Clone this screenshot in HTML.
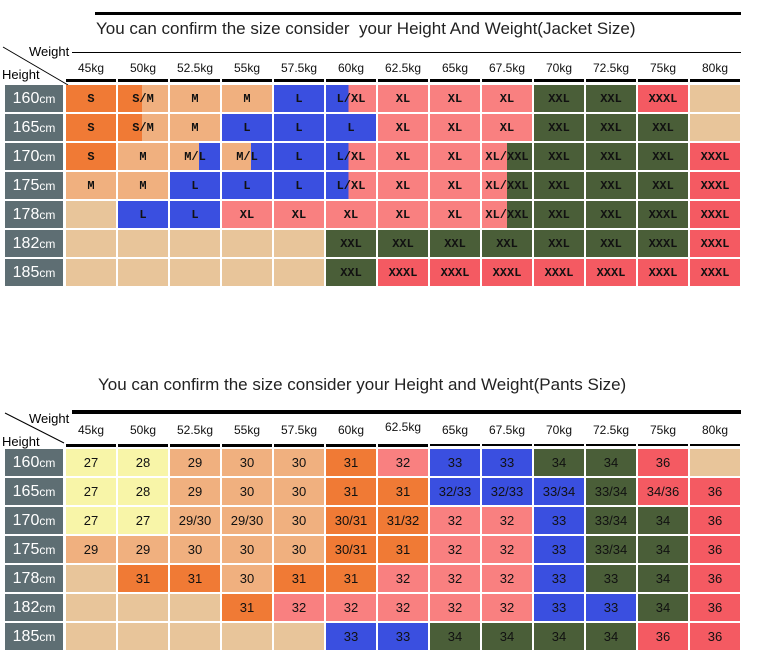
<!DOCTYPE html><html><head><style>
body{margin:0;width:757px;height:662px;background:#fff;position:relative;overflow:hidden;font-family:"Liberation Sans",sans-serif}
.a{position:absolute}
.t{position:absolute;font-size:17px;color:#222;white-space:nowrap}
.hd{position:absolute;left:66px;display:grid;grid-template-columns:repeat(13,50px);column-gap:2px;font-size:12px;color:#111;text-align:center}
.g{position:absolute;left:66px;display:grid;grid-template-columns:repeat(13,50px);grid-auto-rows:27px;gap:2px}
.g div{display:flex;align-items:center;justify-content:center;color:#111}
.j div{font-family:"Liberation Mono",monospace;font-weight:bold;font-size:12px}
.p div{font-size:13px}
.lb{position:absolute;left:5px;width:58px;display:grid;grid-auto-rows:27px;gap:2px}
.lb div{background:#5E6E73;color:#fff;font-size:16px;display:flex;align-items:center;justify-content:center}
.lb small{font-size:12px}
.o{background:#F07A35}.pe{background:#F0B07F}.tn{background:#E8C59A}.b{background:#3A4FE0}.pk{background:#F98080}.gr{background:#4A5E38}.r{background:#F45A62}.y{background:#F8F5A8}
.om{background:linear-gradient(90deg,#F07A35 48%,#F0B07F 48%)}
.ml{background:linear-gradient(90deg,#F0B07F 58%,#3A4FE0 58%)}
.lx{background:linear-gradient(90deg,#3A4FE0 45%,#F98080 45%)}
.xx{background:linear-gradient(90deg,#F98080 50%,#4A5E38 50%)}
.bar{position:absolute;height:3px;background:#000;width:50px}
</style></head><body>
<div class="a" style="left:95px;top:12px;width:646px;height:3px;background:#000"></div>
<div class="t" style="left:96px;top:19px">You can confirm the size consider&nbsp; your Height And Weight(Jacket Size)</div>
<div class="a" style="left:72px;top:52px;width:669px;height:1px;background:#000"></div>
<div class="a" style="left:29px;top:44px;font-size:13px;background:#fff">Weight</div>
<div class="a" style="left:2px;top:67px;font-size:13px">Height</div>
<svg class="a" style="left:0;top:0" width="80" height="100"><line x1="3" y1="47" x2="68" y2="85" stroke="#000" stroke-width="1"/></svg>
<div class="hd" style="top:61px"><span>45kg</span><span>50kg</span><span>52.5kg</span><span>55kg</span><span>57.5kg</span><span>60kg</span><span>62.5kg</span><span>65kg</span><span>67.5kg</span><span>70kg</span><span>72.5kg</span><span>75kg</span><span>80kg</span></div>
<div class="hd" style="top:79px;grid-auto-rows:3px"><span style="background:#000"></span><span style="background:#000"></span><span style="background:#000"></span><span style="background:#000"></span><span style="background:#000"></span><span style="background:#000"></span><span style="background:#000"></span><span style="background:#000"></span><span style="background:#000"></span><span style="background:#000"></span><span style="background:#000"></span><span style="background:#000"></span><span style="background:#000"></span></div>
<div class="lb" style="top:85px"><div>160<small>cm</small></div><div>165<small>cm</small></div><div>170<small>cm</small></div><div>175<small>cm</small></div><div>178<small>cm</small></div><div>182<small>cm</small></div><div>185<small>cm</small></div></div>
<div class="g j" style="top:85px">
<div class="o">S</div><div class="om">S/M</div><div class="pe">M</div><div class="pe">M</div><div class="b">L</div><div class="lx">L/XL</div><div class="pk">XL</div><div class="pk">XL</div><div class="pk">XL</div><div class="gr">XXL</div><div class="gr">XXL</div><div class="r">XXXL</div><div class="tn"></div>
<div class="o">S</div><div class="om">S/M</div><div class="pe">M</div><div class="b">L</div><div class="b">L</div><div class="b">L</div><div class="pk">XL</div><div class="pk">XL</div><div class="pk">XL</div><div class="gr">XXL</div><div class="gr">XXL</div><div class="gr">XXL</div><div class="tn"></div>
<div class="o">S</div><div class="pe">M</div><div class="ml">M/L</div><div class="ml">M/L</div><div class="b">L</div><div class="lx">L/XL</div><div class="pk">XL</div><div class="pk">XL</div><div class="xx">XL/XXL</div><div class="gr">XXL</div><div class="gr">XXL</div><div class="gr">XXL</div><div class="r">XXXL</div>
<div class="pe">M</div><div class="pe">M</div><div class="b">L</div><div class="b">L</div><div class="b">L</div><div class="lx">L/XL</div><div class="pk">XL</div><div class="pk">XL</div><div class="xx">XL/XXL</div><div class="gr">XXL</div><div class="gr">XXL</div><div class="gr">XXL</div><div class="r">XXXL</div>
<div class="tn"></div><div class="b">L</div><div class="b">L</div><div class="pk">XL</div><div class="pk">XL</div><div class="pk">XL</div><div class="pk">XL</div><div class="pk">XL</div><div class="xx">XL/XXL</div><div class="gr">XXL</div><div class="gr">XXL</div><div class="gr">XXXL</div><div class="r">XXXL</div>
<div class="tn"></div><div class="tn"></div><div class="tn"></div><div class="tn"></div><div class="tn"></div><div class="gr">XXL</div><div class="gr">XXL</div><div class="gr">XXL</div><div class="gr">XXL</div><div class="gr">XXL</div><div class="gr">XXL</div><div class="gr">XXXL</div><div class="r">XXXL</div>
<div class="tn"></div><div class="tn"></div><div class="tn"></div><div class="tn"></div><div class="tn"></div><div class="gr">XXL</div><div class="r">XXXL</div><div class="r">XXXL</div><div class="r">XXXL</div><div class="r">XXXL</div><div class="r">XXXL</div><div class="r">XXXL</div><div class="r">XXXL</div>
</div>

<div class="t" style="left:98px;top:375px">You can confirm the size consider your Height and Weight(Pants Size)</div>
<div class="a" style="left:72px;top:410px;width:669px;height:4px;background:#000"></div>
<div class="a" style="left:29px;top:411px;font-size:13px">Weight</div>
<div class="a" style="left:2px;top:434px;font-size:13px">Height</div>
<svg class="a" style="left:0;top:405px" width="80" height="50"><line x1="5" y1="8" x2="64" y2="38" stroke="#000" stroke-width="1"/></svg>
<div class="hd" style="top:423px"><span>45kg</span><span>50kg</span><span>52.5kg</span><span>55kg</span><span>57.5kg</span><span>60kg</span><span style="position:relative;top:-3px">62.5kg</span><span>65kg</span><span>67.5kg</span><span>70kg</span><span>72.5kg</span><span>75kg</span><span>80kg</span></div>
<div class="hd" style="top:444px;grid-auto-rows:2px"><span style="background:#000;height:3px"></span><span style="background:#000;height:3px"></span><span style="background:#000;height:3px"></span><span style="background:#000;height:3px"></span><span style="background:#000;height:3px"></span><span style="background:#000;height:3px"></span><span style="background:#000;height:3px"></span><span style="background:#000"></span><span style="background:#000"></span><span style="background:#000"></span><span style="background:#000"></span><span style="background:#000"></span><span style="background:#000"></span></div>
<div class="lb" style="top:449px"><div>160<small>cm</small></div><div>165<small>cm</small></div><div>170<small>cm</small></div><div>175<small>cm</small></div><div>178<small>cm</small></div><div>182<small>cm</small></div><div>185<small>cm</small></div></div>
<div class="g p" style="top:449px">
<div class="y">27</div><div class="y">28</div><div class="pe">29</div><div class="pe">30</div><div class="pe">30</div><div class="o">31</div><div class="pk">32</div><div class="b">33</div><div class="b">33</div><div class="gr">34</div><div class="gr">34</div><div class="r">36</div><div class="tn"></div>
<div class="y">27</div><div class="y">28</div><div class="pe">29</div><div class="pe">30</div><div class="pe">30</div><div class="o">31</div><div class="o">31</div><div class="b">32/33</div><div class="b">32/33</div><div class="b">33/34</div><div class="gr">33/34</div><div class="r">34/36</div><div class="r">36</div>
<div class="y">27</div><div class="y">27</div><div class="pe">29/30</div><div class="pe">29/30</div><div class="pe">30</div><div class="o">30/31</div><div class="o">31/32</div><div class="pk">32</div><div class="pk">32</div><div class="b">33</div><div class="gr">33/34</div><div class="gr">34</div><div class="r">36</div>
<div class="pe">29</div><div class="pe">29</div><div class="pe">30</div><div class="pe">30</div><div class="pe">30</div><div class="o">30/31</div><div class="o">31</div><div class="pk">32</div><div class="pk">32</div><div class="b">33</div><div class="gr">33/34</div><div class="gr">34</div><div class="r">36</div>
<div class="tn"></div><div class="o">31</div><div class="o">31</div><div class="pe">30</div><div class="o">31</div><div class="o">31</div><div class="pk">32</div><div class="pk">32</div><div class="pk">32</div><div class="b">33</div><div class="gr">33</div><div class="gr">34</div><div class="r">36</div>
<div class="tn"></div><div class="tn"></div><div class="tn"></div><div class="o">31</div><div class="pk">32</div><div class="pk">32</div><div class="pk">32</div><div class="pk">32</div><div class="pk">32</div><div class="b">33</div><div class="b">33</div><div class="gr">34</div><div class="r">36</div>
<div class="tn"></div><div class="tn"></div><div class="tn"></div><div class="tn"></div><div class="tn"></div><div class="b">33</div><div class="b">33</div><div class="gr">34</div><div class="gr">34</div><div class="gr">34</div><div class="gr">34</div><div class="r">36</div><div class="r">36</div>
</div>
</body></html>
